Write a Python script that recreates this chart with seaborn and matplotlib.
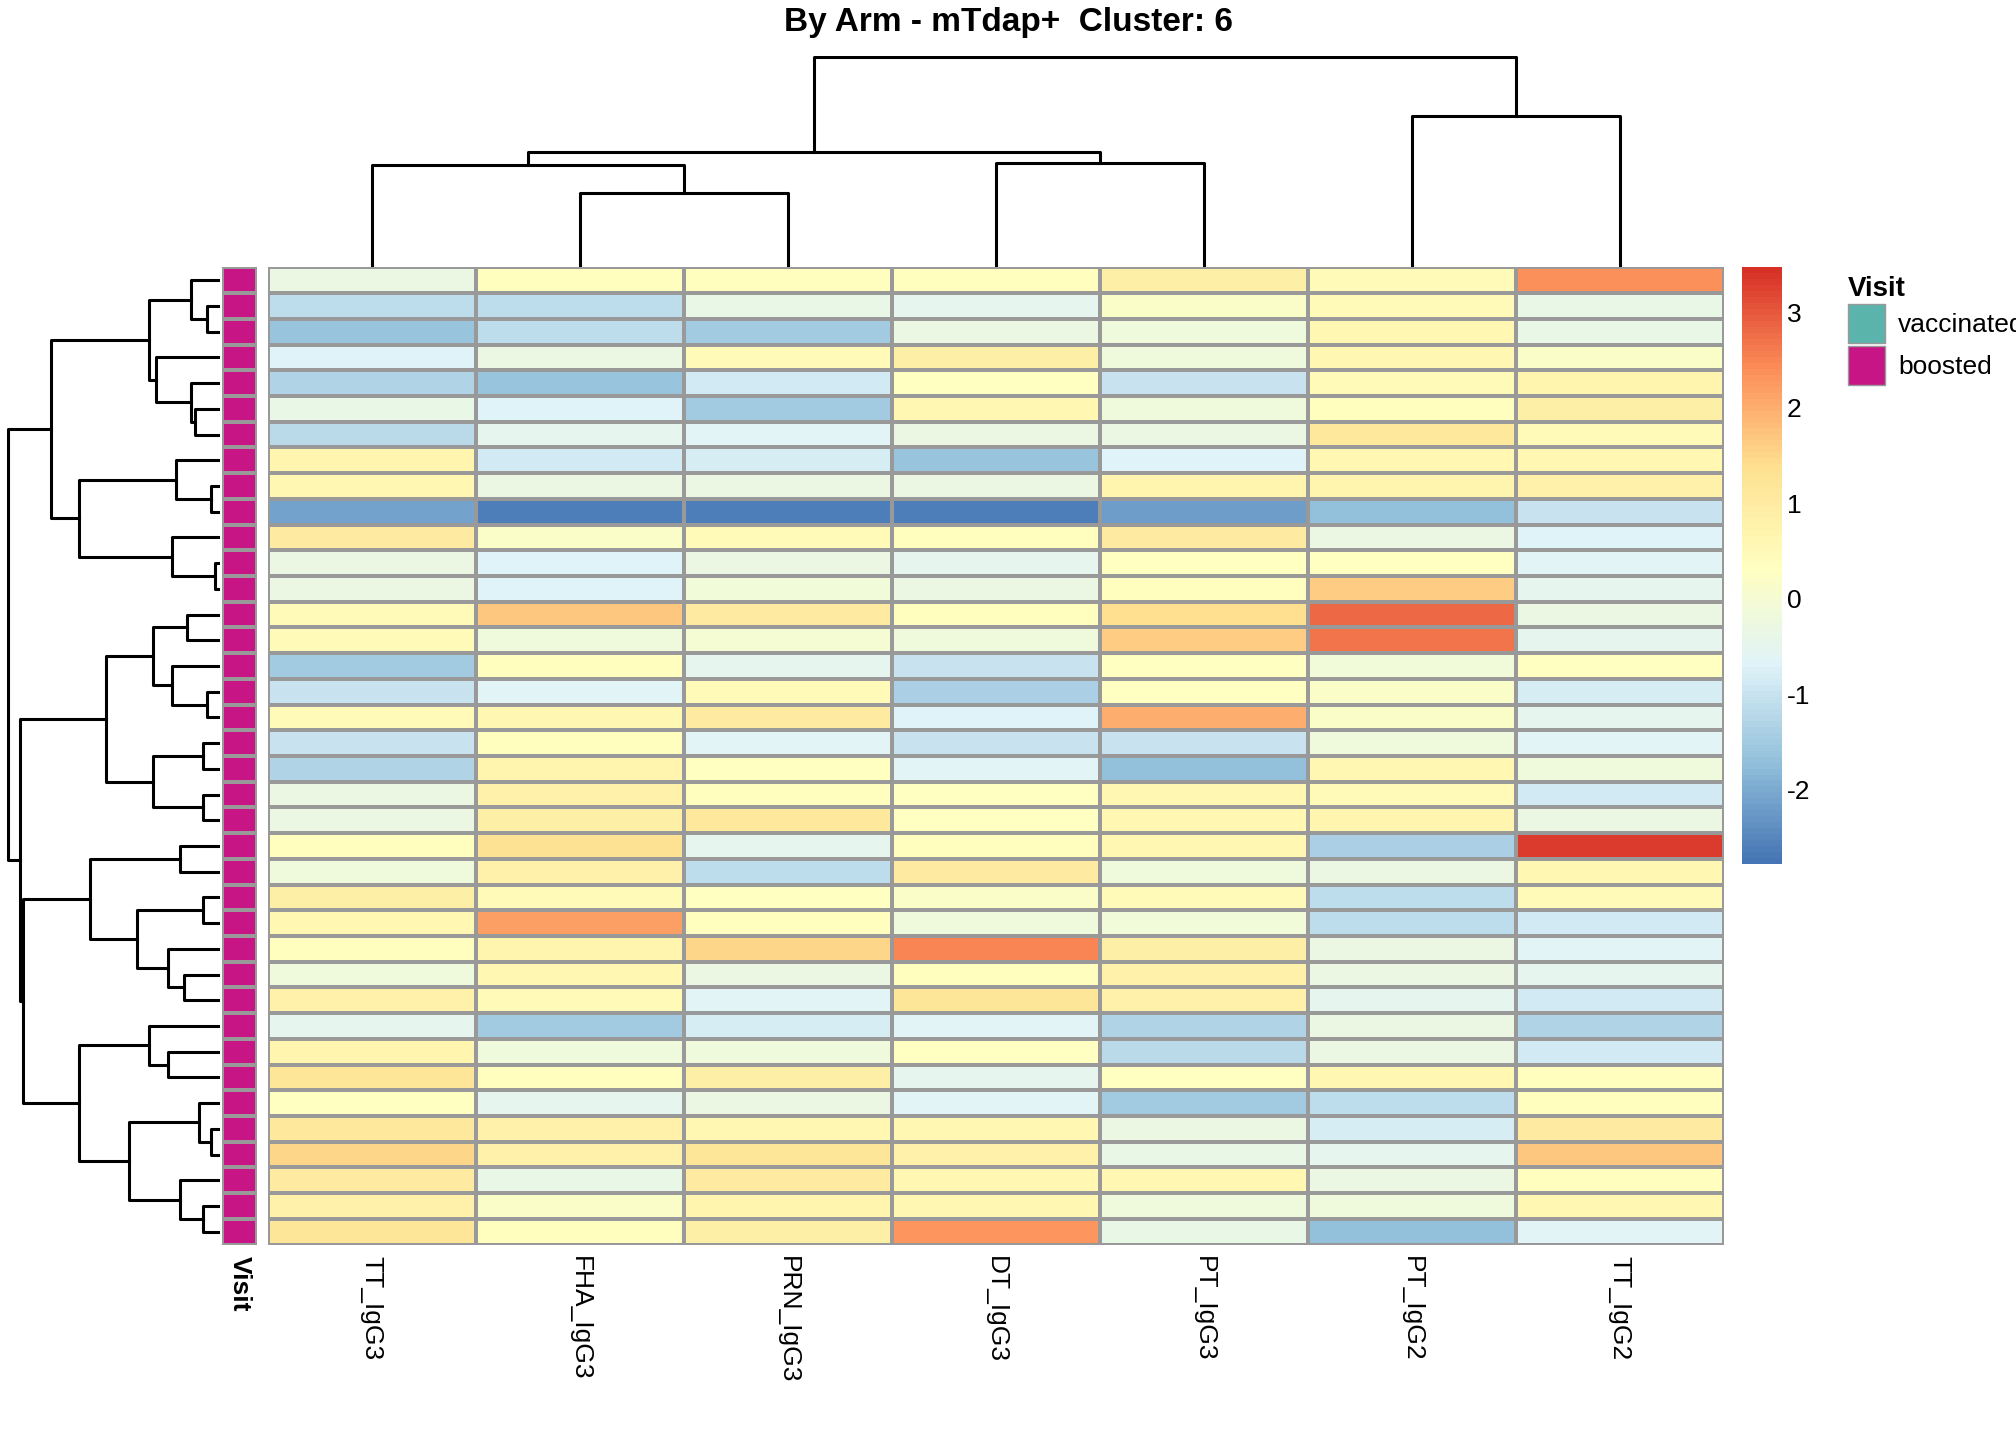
import numpy as np
import pandas as pd
import matplotlib
matplotlib.use("Agg")
import matplotlib.pyplot as plt
import seaborn as sns
from matplotlib.colors import ListedColormap, LinearSegmentedColormap
from matplotlib.patches import Patch

columns = ["TT_IgG3", "FHA_IgG3", "PRN_IgG3", "DT_IgG3", "PT_IgG3", "PT_IgG2", "TT_IgG2"]

values = [
    [-0.3, 0.4, 0.4, 0.4, 0.9, 0.5, 2.4],
    [-1.1, -1.1, -0.4, -0.5, 0.2, 0.5, -0.4],
    [-1.6, -1.1, -1.5, -0.3, -0.2, 0.6, -0.4],
    [-0.7, -0.3, 0.5, 0.9, -0.2, 0.6, 0.2],
    [-1.3, -1.6, -0.9, 0.3, -1.0, 0.5, 0.7],
    [-0.4, -0.7, -1.5, 0.6, -0.2, 0.4, 0.9],
    [-1.2, -0.5, -0.6, -0.3, -0.3, 1.1, 0.5],
    [0.7, -0.9, -0.8, -1.6, -0.7, 0.6, 0.6],
    [0.6, -0.3, -0.3, -0.3, 0.7, 0.7, 0.8],
    [-2.1, -2.6, -2.6, -2.6, -2.2, -1.7, -1.0],
    [1.0, 0.2, 0.5, 0.4, 1.0, -0.3, -0.7],
    [-0.3, -0.7, -0.3, -0.5, 0.3, 0.3, -0.6],
    [-0.3, -0.7, -0.1, -0.3, 0.4, 1.6, -0.5],
    [0.5, 1.7, 1.0, 0.4, 1.4, 2.8, -0.3],
    [0.5, -0.2, 0.0, -0.2, 1.6, 2.7, -0.5],
    [-1.5, 0.4, -0.5, -1.0, 0.3, -0.1, 0.3],
    [-1.0, -0.6, 0.5, -1.4, 0.3, 0.2, -0.8],
    [0.5, 0.6, 1.0, -0.7, 2.0, 0.2, -0.5],
    [-1.0, 0.4, -0.6, -1.0, -1.0, -0.2, -0.6],
    [-1.3, 0.7, 0.3, -0.6, -1.7, 0.6, -0.2],
    [-0.3, 0.8, 0.4, 0.3, 0.6, 0.5, -0.9],
    [-0.3, 0.9, 1.1, 0.3, 0.6, 0.7, -0.3],
    [0.4, 1.3, -0.5, 0.4, 0.6, -1.4, 3.3],
    [-0.2, 0.8, -1.1, 1.0, -0.2, -0.3, 0.6],
    [0.9, 0.5, 0.3, 0.2, 0.5, -1.1, 0.5],
    [0.6, 2.2, 0.4, -0.2, -0.1, -1.1, -0.9],
    [0.4, 0.7, 1.5, 2.5, 0.9, -0.3, -0.6],
    [-0.2, 0.6, -0.3, 0.4, 0.8, -0.3, -0.5],
    [0.8, 0.5, -0.6, 1.2, 0.8, -0.5, -0.9],
    [-0.5, -1.5, -0.8, -0.6, -1.3, -0.3, -1.3],
    [0.7, -0.2, -0.2, 0.3, -1.2, -0.3, -0.9],
    [1.2, 0.4, 0.9, -0.5, 0.3, 0.6, 0.4],
    [0.3, -0.5, -0.3, -0.6, -1.5, -1.1, 0.4],
    [1.1, 0.8, 0.6, 0.6, -0.3, -0.8, 1.0],
    [1.5, 0.8, 1.2, 0.8, -0.4, -0.5, 1.7],
    [1.0, -0.4, 1.0, 0.6, 0.6, -0.3, 0.4],
    [0.8, 0.2, 0.7, 0.6, -0.2, -0.2, 0.6],
    [1.2, 0.4, 0.9, 2.3, -0.4, -1.7, -0.6],
]

visit = ["boosted"] * len(values)
visit_colors = {"vaccinated": "#5AB4AC", "boosted": "#C71585"}

# 7-colour RdYlBu, reversed (pheatmap default)
palette = ["#4575B4", "#91BFDB", "#E0F3F8", "#FFFFBF", "#FEE090", "#FC8D59", "#D73027"]

# merge trees: (height, left, right), leaves are row/column positions
col_tree = (164, (90, (80, 0, (58, 1, 2)), (81, 3, 4)), (118, 5, 6))
row_tree = (633,
            (504,
             (212, (86, 0, (38, 1, 2)), (192, 3, (86, 4, (74, 5, 6)))),
             (423, (132, 7, (27, 8, 9)), (144, 10, (14, 11, 12)))),
            (597,
             (342,
              (200, (98, 13, 14), (144, 15, (39, 16, 17))),
              (200, (51, 18, 19), (51, 20, 21))),
             (588,
              (390, (120, 22, 23), (249, (51, 24, 25), (155, 26, (107, 27, 28)))),
              (423, (212, 29, (155, 30, 31)),
               (273, (63, 32, (27, 33, 34)), (120, 35, (51, 36, 37)))))))


def draw_tree(ax, node, orient):
    # returns (center position, height)
    if isinstance(node, int):
        return node + 0.5, 0
    h, left, right = node
    pl, hl = draw_tree(ax, left, orient)
    pr, hr = draw_tree(ax, right, orient)
    if orient == "top":
        ax.plot([pl, pl, pr, pr], [hl, h, h, hr], color="black", lw=2.2)
    else:
        ax.plot([hl, h, h, hr], [pl, pl, pr, pr], color="black", lw=2.2)
    return (pl + pr) / 2, h


df = pd.DataFrame(values, columns=columns)

fig = plt.figure(figsize=(20.16, 14.4), dpi=100)
plt.rcParams['font.family'] = ['Liberation Sans', 'DejaVu Sans']

ax_hm = fig.add_axes([0.1327, 0.1357, 0.7223, 0.6786])
cmap = LinearSegmentedColormap.from_list("rdylbu7", palette, N=100)
ax_cb = fig.add_axes([0.864, 0.40, 0.02, 0.4143])
sns.heatmap(df, ax=ax_hm, cmap=cmap, vmin=-2.78, vmax=3.47, linewidths=1.5,
            linecolor="#999999", cbar_ax=ax_cb, yticklabels=False)
ax_hm.set_xticklabels(columns, rotation=270, fontsize=19, va="top")
ax_hm.tick_params(axis="x", length=0, pad=8)
ax_cb.tick_params(labelsize=19, length=0)
ax_cb.set_yticks([-2, -1, 0, 1, 2, 3])
ax_cb.set_yticklabels(["-2", "-1", "0", "1", "2", "3"])
for s in ax_cb.spines.values():
    s.set_visible(False)

# annotation column
ax_an = fig.add_axes([0.110, 0.1357, 0.0176, 0.6786])
ann = pd.DataFrame({"Visit": [0 if v == "vaccinated" else 1 for v in visit]})
sns.heatmap(ann, ax=ax_an, cmap=ListedColormap([visit_colors["vaccinated"], visit_colors["boosted"]]),
            vmin=0, vmax=1, cbar=False, linewidths=1.5, linecolor="#999999", yticklabels=False)
ax_an.set_xticklabels(["Visit"], rotation=270, fontsize=19, fontweight="bold", va="top")
ax_an.tick_params(axis="x", length=0, pad=8)

# row dendrogram
ax_rd = fig.add_axes([0.003, 0.1357, 0.106, 0.6786])
draw_tree(ax_rd, row_tree, "left")
ax_rd.set_ylim(len(values), 0)
ax_rd.set_xlim(640, 0)
ax_rd.axis("off")

# column dendrogram
ax_cd = fig.add_axes([0.1327, 0.8143, 0.7223, 0.147])
draw_tree(ax_cd, col_tree, "top")
ax_cd.set_xlim(0, len(columns))
ax_cd.set_ylim(0, 165)
ax_cd.axis("off")

handles = [Patch(facecolor=visit_colors[k], edgecolor="#999999", label=k) for k in ["vaccinated", "boosted"]]
leg = fig.legend(handles=handles, title="Visit", loc="upper left", bbox_to_anchor=(0.905, 0.825),
                 frameon=False, fontsize=19, title_fontsize=20, handlelength=1.4, handleheight=1.9,
                 handletextpad=0.5, labelspacing=0.1, alignment="left")
leg.get_title().set_fontweight("bold")

fig.suptitle("By Arm - mTdap+  Cluster: 6", fontsize=24, fontweight="bold", y=0.995)

fig.savefig("out.png", dpi=100)
